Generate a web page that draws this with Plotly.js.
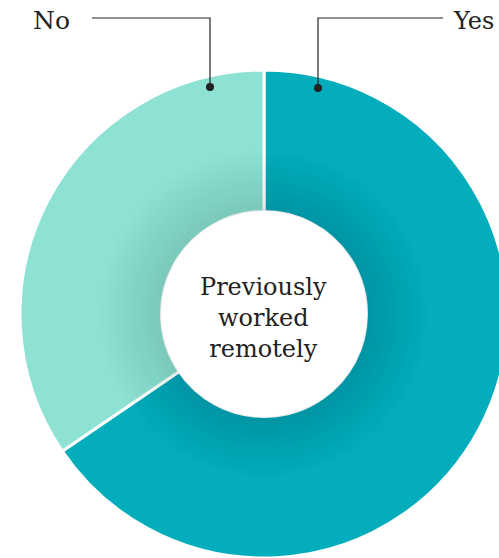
<!DOCTYPE html>
<html><head><meta charset="utf-8">
<script src="https://cdn.plot.ly/plotly-3.0.1.min.js"></script>
<style>html,body{margin:0;padding:0;overflow:hidden;background:#fff;}</style>
</head><body>
<div id="chart" style="width:520px;height:558px;"></div>
<script>
const labels = ["Yes", "No"];
const values = [65.5, 34.5];
const colors = ["#03adbc", "#8ee2d4"];
const centerText = "Previously<br>worked<br>remotely";

const W = 520, H = 558;
const px = x => x / W;
const py = y => 1 - y / H;
const FONT = "DejaVu Serif";
const cx = 264, cy = 314;

const shapes = [];
// soft shadow around hole
for (let k = 12; k >= 1; k--) {
  const r = 103 + k * 5;
  shapes.push({type: "circle", xref: "paper", yref: "paper",
    x0: px(cx - r), x1: px(cx + r), y0: py(cy + r), y1: py(cy - r),
    line: {width: 0}, fillcolor: "rgba(0,40,50,0.009)"});
}
shapes.push({type: "circle", xref: "paper", yref: "paper",
  x0: px(cx - 103), x1: px(cx + 103), y0: py(cy + 103), y1: py(cy - 103),
  line: {width: 0}, fillcolor: "#ffffff"});
// leader lines
const lineStyle = {color: "#222", width: 1.2};
shapes.push({type: "path", xref: "paper", yref: "paper",
  path: `M ${px(92)} ${py(18)} L ${px(210)} ${py(18)} L ${px(210)} ${py(87)}`, line: lineStyle});
shapes.push({type: "path", xref: "paper", yref: "paper",
  path: `M ${px(443)} ${py(18)} L ${px(318)} ${py(18)} L ${px(318)} ${py(88)}`, line: lineStyle});
[[210, 87], [318, 88]].forEach(([x, y]) => {
  shapes.push({type: "circle", xref: "paper", yref: "paper",
    x0: px(x - 4), x1: px(x + 4), y0: py(y + 4), y1: py(y - 4),
    line: {width: 0}, fillcolor: "#222"});
});

const data = [{
  type: "pie",
  labels: labels,
  values: values,
  hole: 0.42,
  sort: false,
  direction: "clockwise",
  rotation: 0,
  marker: {colors: colors, line: {color: "#ffffff", width: 3}},
  textinfo: "none",
  hoverinfo: "label+value",
  domain: {x: [20 / W, 508 / W], y: [0, py(70)]},
  showlegend: false
}];

const layout = {
  width: W, height: H,
  margin: {l: 0, r: 0, t: 0, b: 0},
  paper_bgcolor: "#ffffff",
  showlegend: false,
  shapes: shapes,
  annotations: [
    {text: labels[1], xref: "paper", yref: "paper", x: px(31), y: py(21), xanchor: "left", yanchor: "middle",
     showarrow: false, font: {family: FONT, size: 25, color: "#222"}},
    {text: labels[0], xref: "paper", yref: "paper", x: px(451), y: py(21), xanchor: "left", yanchor: "middle",
     showarrow: false, font: {family: FONT, size: 24, color: "#222"}},
    {text: centerText, xref: "paper", yref: "paper", x: px(263), y: py(318), xanchor: "center", yanchor: "middle",
     showarrow: false, font: {family: FONT, size: 24, color: "#222"}}
  ]
};
Plotly.newPlot("chart", data, layout, {displayModeBar: false, staticPlot: true});
</script>
</body></html>
